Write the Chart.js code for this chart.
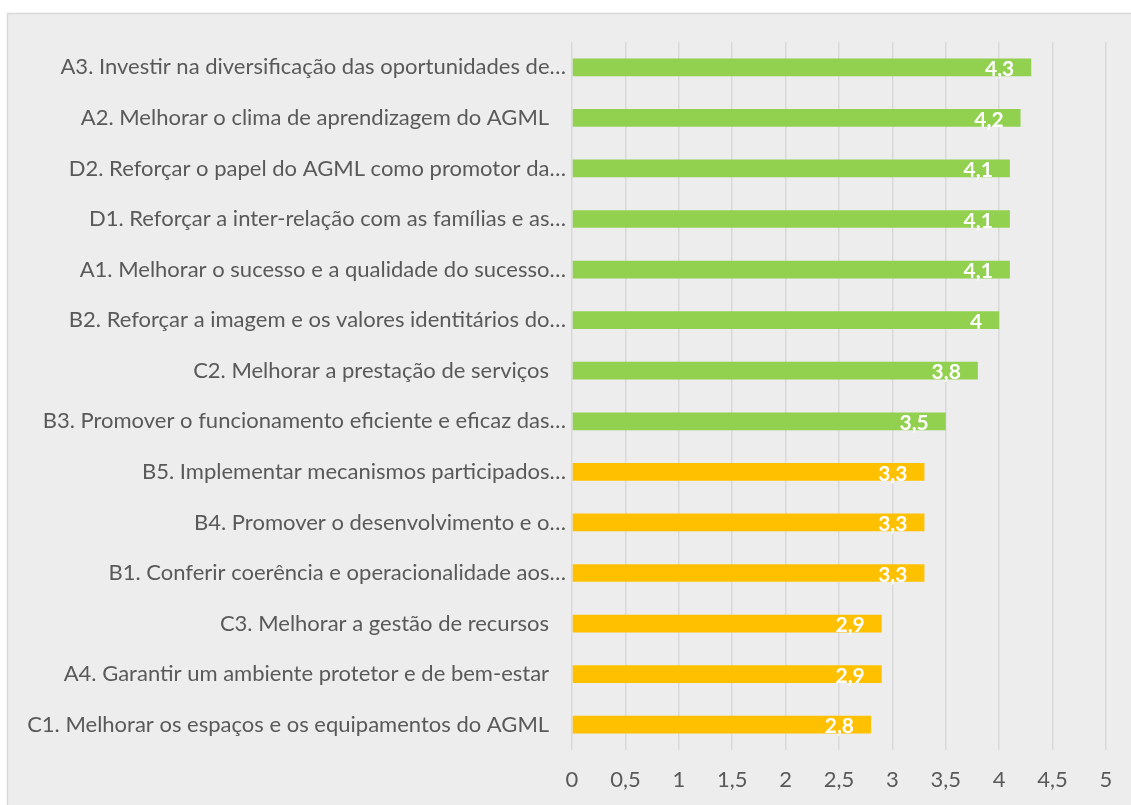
<!DOCTYPE html>
<html>
<head>
<meta charset="utf-8">
<script src="https://cdn.jsdelivr.net/npm/chart.js@4"></script>
<style>
  html, body { margin: 0; padding: 0; background: #fff; }
  #wrap { width: 1131px; height: 805px; }
</style>
</head>
<body>
<div id="wrap"><canvas id="chart"></canvas></div>
<script>
// Categories (top to bottom) and scores
const categories = [
  'A3. Investir na diversificação das oportunidades de…',
  'A2. Melhorar o clima de aprendizagem do AGML ',
  'D2. Reforçar o papel do AGML como promotor da…',
  'D1. Reforçar a inter-relação com as famílias e as…',
  'A1. Melhorar o sucesso e a qualidade do sucesso…',
  'B2. Reforçar a imagem e os valores identitários do…',
  'C2. Melhorar a prestação de serviços ',
  'B3. Promover o funcionamento eficiente e eficaz das…',
  'B5. Implementar mecanismos participados…',
  'B4. Promover o desenvolvimento e o…',
  'B1. Conferir coerência e operacionalidade aos…',
  'C3. Melhorar a gestão de recursos ',
  'A4. Garantir um ambiente protetor e de bem-estar ',
  'C1. Melhorar os espaços e os equipamentos do AGML '
];
const scores = [4.3, 4.2, 4.1, 4.1, 4.1, 4.0, 3.8, 3.5, 3.3, 3.3, 3.3, 2.9, 2.9, 2.8];
const barColors = ['#92d050', '#92d050', '#92d050', '#92d050', '#92d050', '#92d050', '#92d050', '#92d050',
  '#ffc000', '#ffc000', '#ffc000', '#ffc000', '#ffc000', '#ffc000'];
const xTicks = [0, 0.5, 1, 1.5, 2, 2.5, 3, 3.5, 4, 4.5, 5];

const FONT = 'Lato, "Liberation Sans", sans-serif';

// grey panel behind the chart
const panelBg = {
  id: 'panelBg',
  beforeDraw(chart) {
    const c = chart.ctx;
    c.save();
    c.fillStyle = '#ffffff';
    c.fillRect(0, 0, chart.width, chart.height);
    c.fillStyle = '#ededed';
    c.fillRect(7, 13, chart.width - 7, chart.height - 13);
    c.strokeStyle = '#d9d9d9';
    c.lineWidth = 1.5;
    c.beginPath();
    c.moveTo(7.5, chart.height);
    c.lineTo(7.5, 13.5);
    c.lineTo(chart.width, 13.5);
    c.stroke();
    c.restore();
  }
};

// white value labels at the end of each bar
const valueLabels = {
  id: 'valueLabels',
  afterDatasetsDraw(chart) {
    const c = chart.ctx;
    const meta = chart.getDatasetMeta(0);
    c.save();
    c.font = 'bold 21px ' + FONT;
    c.fillStyle = '#ffffff';
    c.textAlign = 'right';
    c.textBaseline = 'middle';
    meta.data.forEach((bar, i) => {
      const txt = String(scores[i]).replace('.', ',');
      c.fillText(txt, bar.x - 17, bar.y + 2);
    });
    c.restore();
  }
};

new Chart(document.getElementById('chart'), {
  type: 'bar',
  data: {
    labels: categories,
    datasets: [{
      data: scores,
      backgroundColor: barColors,
      barPercentage: 0.35,
      categoryPercentage: 1
    }]
  },
  options: {
    indexAxis: 'y',
    responsive: true,
    maintainAspectRatio: false,
    animation: false,
    layout: { padding: { top: 42, right: 25, left: 0, bottom: 0 } },
    plugins: {
      legend: { display: false },
      tooltip: { enabled: false }
    },
    scales: {
      x: {
        min: 0,
        max: 5,
        afterBuildTicks: scale => { scale.ticks = xTicks.map(v => ({ value: v })); },
        afterFit: scale => { scale.height = 55; },
        grid: { color: '#d9d9d9', lineWidth: 1.5, drawTicks: false },
        border: { display: false },
        ticks: {
          padding: 17,
          color: '#595959',
          font: { family: FONT, size: 22 },
          callback: v => String(v).replace('.', ',')
        }
      },
      y: {
        afterFit: scale => { scale.width = 572; },
        grid: { display: false, drawTicks: false },
        border: { display: false },
        ticks: {
          padding: 6,
          color: '#595959',
          font: { family: FONT, size: 22 },
          // untruncated labels sit a little further from the axis
          callback: function (v) {
            const lbl = this.getLabelForValue(v);
            return lbl.endsWith(' ') ? lbl + '  ' : lbl;
          }
        }
      }
    }
  },
  plugins: [panelBg, valueLabels]
});
</script>
</body>
</html>
